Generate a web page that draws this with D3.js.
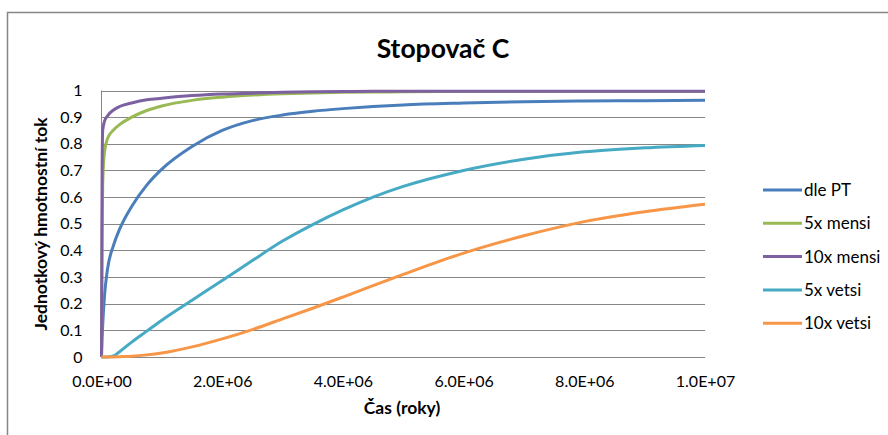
<!DOCTYPE html>
<html lang="cs">
<head>
  <meta charset="UTF-8">
  <title>Stopovač C</title>
  <script src="https://d3js.org/d3.v7.min.js"></script>
  <style>
    body {
      margin: 0;
      padding: 0;
      background: #fff;
      font-family: Lato, 'Open Sans', sans-serif;
    }
    .grid line {
      stroke: #868686;
      stroke-width: 1px;
    }
    .axis text {
      font-size: 16px;
      fill: #000;
      font-family: Lato, sans-serif;
    }
    .line {
      fill: none;
      stroke-width: 3px;
      stroke-linejoin: round;
    }
  </style>
</head>
<body>
<svg id="chart" width="888" height="435"></svg>
<script>
  // time points (roky)
  const times = [0, 1e4, 2e4, 5e4, 1e5, 2e5, 3e5, 5e5, 7.5e5, 1e6, 1.5e6, 2e6, 2.5e6,
    3e6, 3.5e6, 4e6, 4.5e6, 5e6, 6e6, 7e6, 8e6, 9e6, 1e7];

  const dlePT = [0, 0.07, 0.12, 0.23, 0.33, 0.42, 0.48, 0.565, 0.645, 0.705, 0.79, 0.85, 0.887,
    0.908, 0.922, 0.932, 0.94, 0.946, 0.953, 0.958, 0.961, 0.962, 0.963];
  const mensi5 = [0, 0.45, 0.65, 0.77, 0.82, 0.852, 0.872, 0.9, 0.925, 0.942, 0.963, 0.975, 0.983,
    0.988, 0.991, 0.993, 0.994, 0.995, 0.996, 0.996, 0.996, 0.996, 0.996];
  const mensi10 = [0, 0.7, 0.85, 0.885, 0.905, 0.927, 0.94, 0.953, 0.965, 0.971, 0.981, 0.987, 0.99,
    0.993, 0.995, 0.996, 0.997, 0.997, 0.997, 0.997, 0.997, 0.997, 0.997];
  const vetsi5 = [0, 0, 0, 0, 0, 0.004, 0.02, 0.056, 0.097, 0.138, 0.213, 0.287, 0.362,
    0.435, 0.497, 0.552, 0.6, 0.64, 0.7, 0.742, 0.77, 0.785, 0.794];
  const vetsi10 = [0, 0, 0, 0, 0, 0, 0.001, 0.003, 0.008, 0.015, 0.038, 0.068, 0.103,
    0.143, 0.183, 0.225, 0.268, 0.31, 0.39, 0.455, 0.508, 0.545, 0.573];

  const seriesNames = ["dle PT", "5x mensi", "10x mensi", "5x vetsi", "10x vetsi"];
  const seriesValues = [dlePT, mensi5, mensi10, vetsi5, vetsi10];
  const colors = ["#4A7EBB", "#98B954", "#7D60A0", "#46AAC5", "#F79646"];

  const xTicks = [0, 2e6, 4e6, 6e6, 8e6, 1e7];
  const yTicks = [0, 0.1, 0.2, 0.3, 0.4, 0.5, 0.6, 0.7, 0.8, 0.9, 1];

  const svg = d3.select("#chart");

  // outer chart border (runs off the right / bottom of the picture)
  svg.append("rect")
    .attr("x", 7.5).attr("y", 12.5)
    .attr("width", 1000).attr("height", 600)
    .attr("fill", "none")
    .attr("stroke", "#868686")
    .attr("stroke-width", 1.5);

  const plotL = 101.5, plotR = 705, plotT = 90.5, plotB = 357;

  const x = d3.scaleLinear().domain([0, 1e7]).range([plotL, plotR]);
  const y = d3.scaleLinear().domain([0, 1]).range([plotB, plotT]);

  // horizontal gridlines
  svg.append("g")
    .attr("class", "grid")
    .selectAll("line")
    .data(yTicks)
    .enter().append("line")
    .attr("x1", plotL).attr("x2", plotR)
    .attr("y1", d => Math.round(y(d)) + 0.5)
    .attr("y2", d => Math.round(y(d)) + 0.5);

  // axes
  svg.append("g")
    .attr("class", "axis")
    .attr("transform", `translate(${plotL},0)`)
    .call(d3.axisLeft(y).tickValues(yTicks).tickSize(0).tickPadding(19)
      .tickFormat(d => String(+d.toFixed(1))))
    .call(g => g.select(".domain").remove());

  svg.append("g")
    .attr("class", "axis")
    .attr("transform", `translate(0,${plotB})`)
    .call(d3.axisBottom(x).tickValues(xTicks).tickSize(0).tickPadding(19)
      .tickFormat(d => d.toExponential(1).toUpperCase().replace(/E([+-])(\d)$/, "E$10$2")))
    .call(g => g.select(".domain").remove());

  svg.append("line")
    .attr("x1", plotL).attr("x2", plotL)
    .attr("y1", plotT).attr("y2", plotB)
    .attr("stroke", "#868686");

  // series
  const line = d3.line()
    .x(d => x(d[0]))
    .y(d => y(d[1]))
    .curve(d3.curveMonotoneX);

  seriesValues.forEach((vals, i) => {
    svg.append("path")
      .datum(times.map((t, j) => [t, vals[j]]))
      .attr("class", "line")
      .attr("stroke", colors[i])
      .attr("d", line);
  });

  // titles
  svg.append("text")
    .attr("x", 443).attr("y", 58)
    .attr("text-anchor", "middle")
    .style("font-size", "26.5px")
    .style("font-weight", "bold")
    .text("Stopovač C");

  svg.append("text")
    .attr("transform", "translate(47,224) rotate(-90)")
    .attr("text-anchor", "middle")
    .style("font-size", "17.5px")
    .style("font-weight", "bold")
    .text("Jednotkový hmotnostní tok");

  svg.append("text")
    .attr("x", 402).attr("y", 414)
    .attr("text-anchor", "middle")
    .style("font-size", "17.5px")
    .style("font-weight", "bold")
    .text("Čas (roky)");

  // legend
  const legend = svg.append("g").attr("transform", "translate(763,190)");
  seriesNames.forEach((name, i) => {
    const row = legend.append("g").attr("transform", `translate(0,${i * 33.3})`);
    row.append("line")
      .attr("x1", 0).attr("x2", 39)
      .attr("stroke", colors[i])
      .attr("stroke-width", 3);
    row.append("text")
      .attr("x", 41).attr("y", 6)
      .style("font-size", "17px")
      .text(name);
  });
</script>
</body>
</html>
